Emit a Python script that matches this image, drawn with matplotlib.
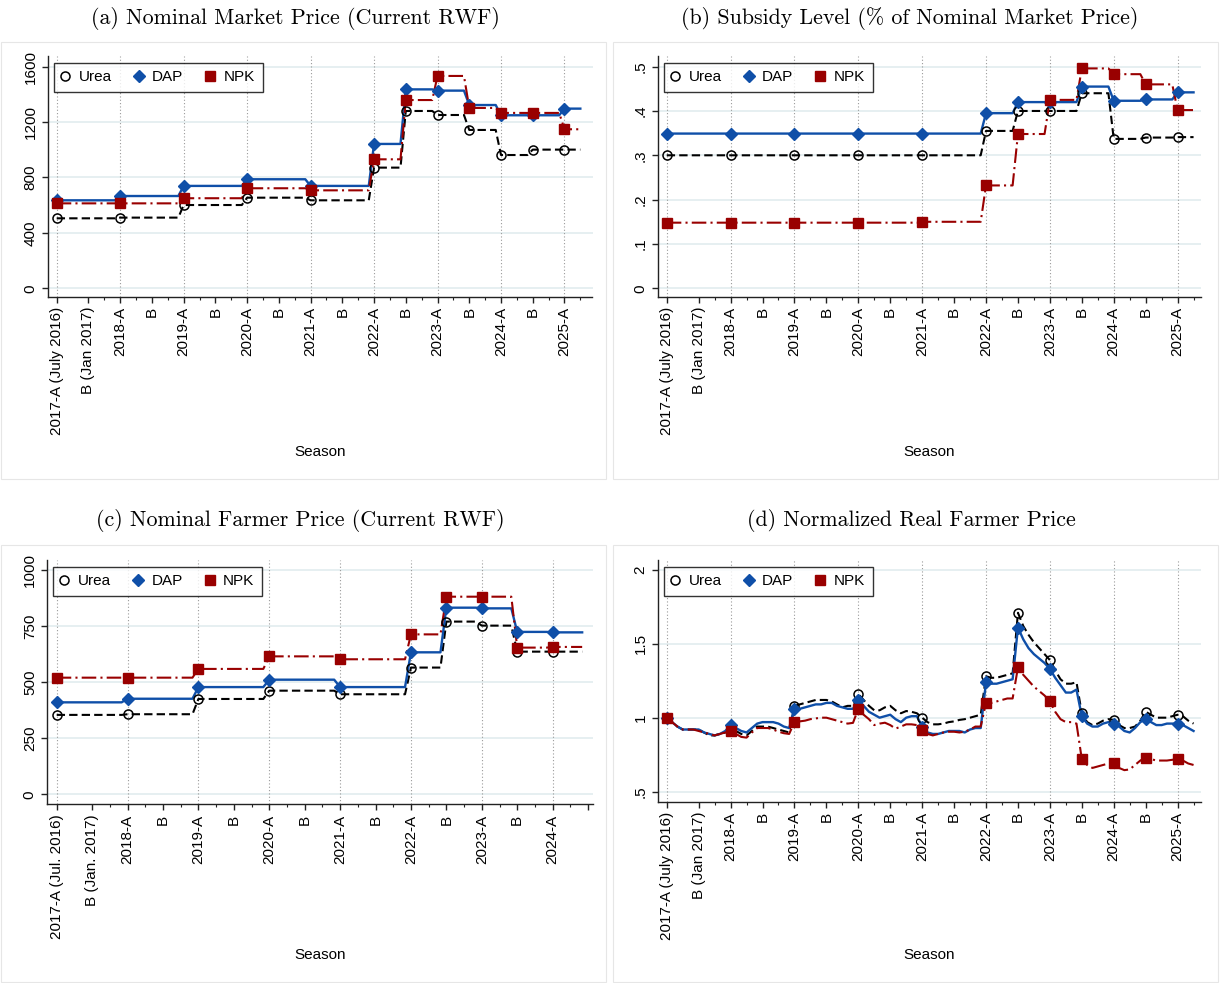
import matplotlib
matplotlib.use("Agg")
import matplotlib.pyplot as plt
from matplotlib.lines import Line2D
from matplotlib.patches import Rectangle

plt.rcParams['font.family'] = ['Liberation Sans', 'DejaVu Sans']

# Season start months, counted from July 2016 (2017-A)
seasons = [0, 12, 24, 36, 48, 60, 66, 72, 78, 84, 90, 96]
seasons_c = [0, 12, 24, 36, 48, 60, 66, 72, 78, 84]

labels_abd = ['2017-A (July 2016)', 'B (Jan 2017)', '2018-A', 'B', '2019-A', 'B',
              '2020-A', 'B', '2021-A', 'B', '2022-A', 'B', '2023-A', 'B',
              '2024-A', 'B', '2025-A']
labels_c = ['2017-A (Jul. 2016)', 'B (Jan. 2017)', '2018-A', 'B', '2019-A', 'B',
            '2020-A', 'B', '2021-A', 'B', '2022-A', 'B', '2023-A', 'B',
            '2024-A', '']

# (a) nominal market price, RWF
market_urea = [505, 510, 601, 654, 635, 871, 1280, 1251, 1143, 962, 1001, 1001]
market_dap = [635, 666, 739, 787, 739, 1042, 1436, 1427, 1323, 1249, 1249, 1297]
market_npk = [613, 613, 650, 722, 707, 931, 1359, 1533, 1302, 1266, 1266, 1148]

# (b) subsidy as share of market price
subsidy_urea = [.300, .300, .300, .300, .300, .355, .400, .400, .440, .337, .340, .341]
subsidy_dap = [.349, .349, .349, .349, .349, .395, .420, .420, .455, .423, .426, .442]
subsidy_npk = [.148, .148, .148, .148, .150, .232, .348, .425, .496, .483, .460, .402]

# (c) nominal farmer price, RWF
farmer_urea = [354, 357, 425, 462, 446, 565, 770, 752, 636, 636]
farmer_dap = [410, 426, 478, 511, 478, 633, 832, 829, 724, 722]
farmer_npk = [520, 520, 559, 615, 602, 713, 881, 881, 654, 657]

# (d) real farmer price, monthly, normalised to July 2016 = 1
real_urea = [1.00, .97, .94, .92, .92, .92, .92, .90, .88, .88,
             .89, .90, .92, .91, .89, .88, .91, .94, .94, .94,
             .93, .92, .91, .90, 1.08, 1.09, 1.10, 1.11, 1.12, 1.12,
             1.12, 1.11, 1.09, 1.07, 1.08, 1.08, 1.16, 1.12, 1.08, 1.05,
             1.05, 1.07, 1.08, 1.05, 1.03, 1.045, 1.04, 1.03, 1.00, .97,
             .955, .955, .96, .97, .975, .985, .99, 1.00, 1.01, 1.02,
             1.28, 1.27, 1.27, 1.28, 1.29, 1.30, 1.71, 1.62, 1.56, 1.51,
             1.47, 1.43, 1.39, 1.32, 1.26, 1.23, 1.23, 1.24, 1.03, .97,
             .95, .96, .98, .99, .985, .95, .93, .93, .94, .98,
             1.04, 1.02, 1.00, 1.00, 1.00, 1.01, 1.02, 1.01, .98, .96]
real_dap = [1.00, .97, .94, .92, .92, .92, .92, .90, .89, .88,
            .89, .91, .95, .93, .91, .90, .93, .96, .97, .97,
            .97, .96, .94, .93, 1.06, 1.06, 1.07, 1.08, 1.09, 1.09,
            1.10, 1.10, 1.08, 1.07, 1.06, 1.06, 1.12, 1.08, 1.04, 1.02,
            1.00, 1.01, 1.02, .99, .97, 1.00, 1.01, 1.01, .94, .90,
            .89, .89, .90, .91, .91, .91, .90, .92, .93, .93,
            1.24, 1.23, 1.23, 1.24, 1.25, 1.26, 1.61, 1.53, 1.47, 1.43,
            1.40, 1.37, 1.33, 1.27, 1.22, 1.17, 1.17, 1.19, 1.01, .96,
            .94, .94, .96, .97, .96, .94, .91, .90, .93, .97,
            .99, .97, .95, .95, .96, .96, .96, .95, .93, .91]
real_npk = [1.00, .97, .94, .92, .92, .92, .91, .90, .89, .88,
            .89, .90, .91, .89, .87, .865, .90, .93, .93, .93,
            .92, .905, .895, .89, .97, .975, .98, .99, .995, 1.00,
            1.00, .99, .98, .97, .96, .965, 1.06, 1.02, .99, .95,
            .96, .966, .95, .926, .94, .955, .955, .95, .915, .89,
            .88, .89, .90, .905, .905, .90, .905, .92, .94, .94,
            1.10, 1.10, 1.11, 1.12, 1.13, 1.13, 1.34, 1.29, 1.25, 1.21,
            1.18, 1.15, 1.11, 1.04, .99, .97, .97, .96, .72, .68,
            .66, .67, .68, .69, .69, .66, .645, .65, .68, .71,
            .73, .72, .71, .71, .71, .715, .72, .71, .69, .68]

BLUE = '#0F4FA8'
RED = '#990000'
urea_style = dict(color='black', lw=1.5, ls=(0, (4, 2)))
dap_style = dict(color=BLUE, lw=1.7, ls='-')
npk_style = dict(color=RED, lw=1.5, ls=(0, (7, 2, 1, 2)))
urea_mk = dict(marker='o', ms=6.5, mfc='none', mec='black', mew=1.1)
dap_mk = dict(marker='D', ms=6.5, mfc=BLUE, mec=BLUE)
npk_mk = dict(marker='s', ms=7, mfc=RED, mec=RED)

W, H = 1222, 983
fig = plt.figure(figsize=(W / 100, H / 100), dpi=100)


def px_axes(x0, y0, x1, y1):
    return fig.add_axes([x0 / W, 1 - y1 / H, (x1 - x0) / W, (y1 - y0) / H])


def step_path(months, values, end):
    """Hold each season value until the month before the next season."""
    xs, ys = [], []
    for i, (m, v) in enumerate(zip(months, values)):
        stop = months[i + 1] - 1 if i + 1 < len(months) else end
        xs += [m, stop]
        ys += [v, v]
    return xs, ys


def style_axes(ax, ticks, ticklabels, yticks, yticklabels, ylim, xlim, last_a, label_y):
    ax.set_xlim(*xlim)
    ax.set_ylim(*ylim)
    for s in ['top', 'right']:
        ax.spines[s].set_visible(False)
    for s in ['left', 'bottom']:
        ax.spines[s].set_color('#222222')
        ax.spines[s].set_linewidth(1.0)
    for y in yticks:
        ax.axhline(y, color='#e6eff1', lw=1.4, zorder=0)
    for m in range(0, last_a + 1, 12):
        ax.axvline(m, color='#9a9a9a', lw=0.8, ls=(0, (1, 2)), zorder=0)
    ax.set_xticks(ticks)
    ax.set_xticklabels(ticklabels, rotation=90, fontsize=11)
    ax.set_xticks([m for m in range(9, int(xlim[1]), 6)], minor=True)
    ax.set_yticks(yticks)
    ax.set_yticklabels(yticklabels, rotation=90, va='center', fontsize=11)
    ax.tick_params(which='major', direction='out', length=4, width=1, pad=3.3, color='#222222')
    ax.tick_params(which='minor', direction='out', length=2.5, width=0.8, color='#222222')
    ax.set_xlabel('Season', fontsize=11)
    ax.xaxis.set_label_coords(0.5, label_y)
    handles = [Line2D([], [], ls='none', **urea_mk),
               Line2D([], [], ls='none', **dap_mk),
               Line2D([], [], ls='none', **npk_mk)]
    leg = ax.legend(handles, ['Urea', 'DAP', 'NPK'], ncol=3, loc='upper left',
                    bbox_to_anchor=(0.011, 0.972), borderaxespad=0, fontsize=11,
                    frameon=True, fancybox=False, handlelength=0.5,
                    handletextpad=0.64, columnspacing=1.5, borderpad=0.5)
    leg.get_frame().set_edgecolor('black')
    leg.get_frame().set_linewidth(1.0)


def draw_steps(ax, months, urea, dap, npk, end):
    for vals, st, mk in [(urea, urea_style, urea_mk), (dap, dap_style, dap_mk),
                         (npk, npk_style, npk_mk)]:
        xs, ys = step_path(months, vals, end)
        ax.plot(xs, ys, zorder=3, **st)
        ax.plot(months, vals, ls='none', zorder=4, **mk)


ticks_abd = list(range(0, 97, 6))
ticks_c = list(range(0, 91, 6))

# (a)
ax = px_axes(47.7, 56, 592.5, 296.7)
draw_steps(ax, seasons, market_urea, market_dap, market_npk, 99)
style_axes(ax, ticks_abd, labels_abd, [0, 400, 800, 1200, 1600],
           ['0', '400', '800', '1200', '1600'], (-61, 1677), (-1.7, 101.3), 96, -0.616)

# (b)
ax = px_axes(657.7, 56, 1201, 296.7)
draw_steps(ax, seasons, subsidy_urea, subsidy_dap, subsidy_npk, 99)
style_axes(ax, ticks_abd, labels_abd, [0, .1, .2, .3, .4, .5],
           ['0', '.1', '.2', '.3', '.4', '.5'], (-0.019, 0.524), (-1.7, 100.4), 96, -0.616)

# (c)
ax = px_axes(47, 560, 592.5, 804.3)
draw_steps(ax, seasons_c, farmer_urea, farmer_dap, farmer_npk, 89)
style_axes(ax, ticks_c, labels_c, [0, 250, 500, 750, 1000],
           ['0', '250', '500', '750', '1000'], (-44.6, 1044.6), (-1.64, 90.75), 84, -0.588)

# (d)
ax = px_axes(657.7, 560, 1201, 801.7)
months = list(range(len(real_urea)))
for vals, st, mk in [(real_urea, urea_style, urea_mk), (real_dap, dap_style, dap_mk),
                     (real_npk, npk_style, npk_mk)]:
    ax.plot(months, vals, zorder=3, **st)
    ax.plot(seasons, [vals[m] for m in seasons], ls='none', zorder=4, **mk)
style_axes(ax, ticks_abd, labels_abd, [.5, 1, 1.5, 2],
           ['.5', '1', '1.5', '2'], (0.4315, 2.067), (-1.7, 100.4), 96, -0.605)

# panel outlines and captions
for x0, y0 in [(1, 42), (613, 42), (1, 545), (613, 545)]:
    fig.add_artist(Rectangle((x0 / W, 1 - (y0 + 437) / H), 605 / W, 437 / H,
                             transform=fig.transFigure, fill=False,
                             ec='#e6e6e6', lw=0.8))

titles = [('(a) Nominal Market Price (Current RWF)', 295, 19),
          ('(b) Subsidy Level (% of Nominal Market Price)', 910, 19),
          ('(c) Nominal Farmer Price (Current RWF)', 300, 520),
          ('(d) Normalized Real Farmer Price', 911, 520)]
for text, x, y in titles:
    fig.text(x / W, 1 - y / H, text, family='cmr10', fontsize=15.8,
             ha='center', va='center')

fig.savefig('out.png', dpi=100, facecolor='white')
